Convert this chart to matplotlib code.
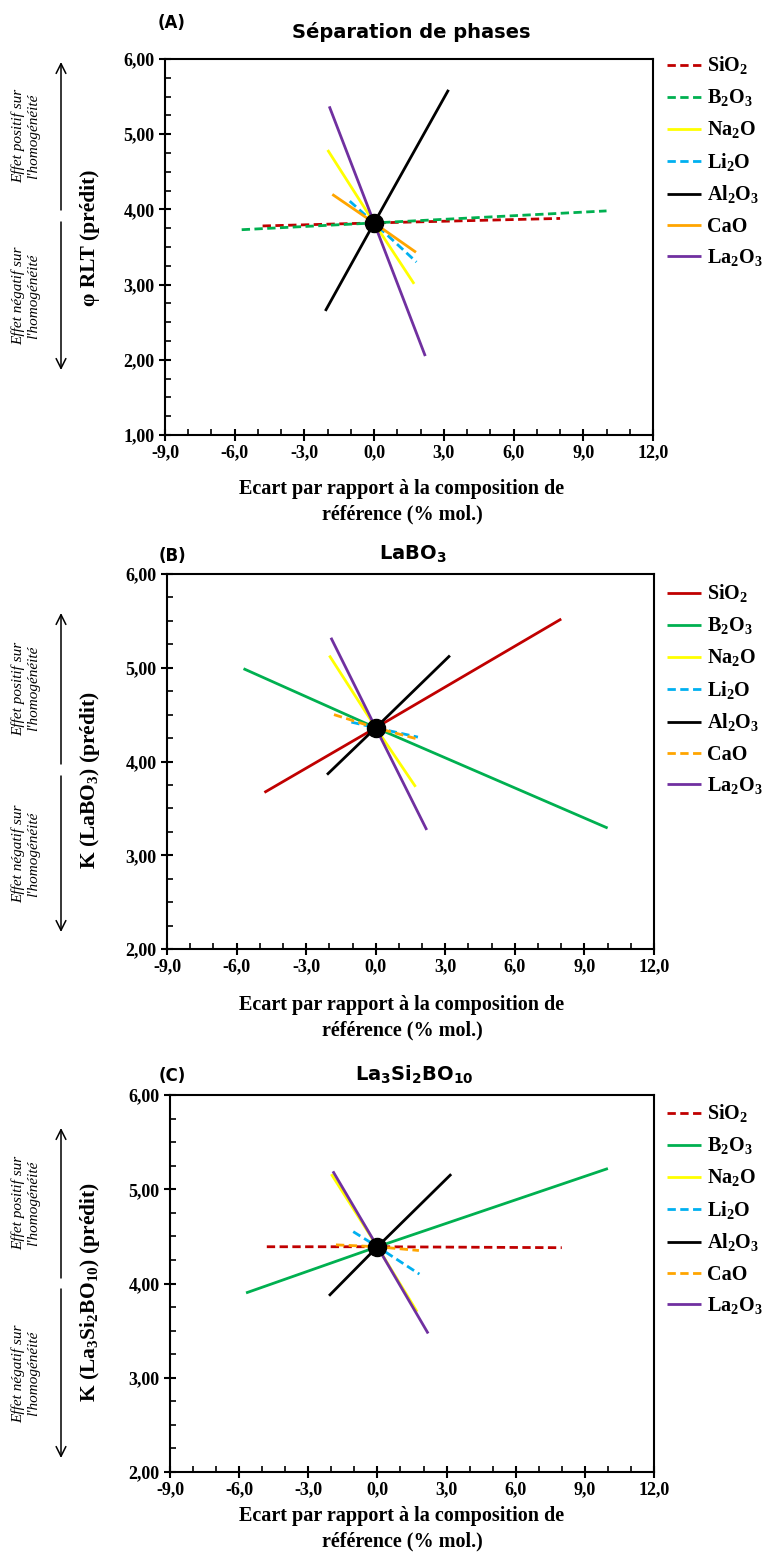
import matplotlib
matplotlib.use("Agg")
import matplotlib.pyplot as plt
from matplotlib.ticker import MultipleLocator, FuncFormatter

plt.rcParams['mathtext.fontset'] = 'custom'
plt.rcParams['mathtext.rm'] = 'Liberation Serif:bold'
plt.rcParams['mathtext.bf'] = 'Liberation Serif:bold'
plt.rcParams['mathtext.sf'] = 'DejaVu Sans:bold'

# ---------------- data ----------------
components = ['SiO2', 'B2O3', 'Na2O', 'Li2O', 'Al2O3', 'CaO', 'La2O3']
legend_labels = [r'SiO$_\mathrm{2}$', r'B$_\mathrm{2}$O$_\mathrm{3}$', r'Na$_\mathrm{2}$O',
                 r'Li$_\mathrm{2}$O', r'Al$_\mathrm{2}$O$_\mathrm{3}$', 'CaO',
                 r'La$_\mathrm{2}$O$_\mathrm{3}$']
# deviation range (% mol.) explored for each oxide
x_low = [-4.8, -5.7, -2.0, -1.05, -2.1, -1.8, -1.93]
x_high = [8.0, 10.0, 1.72, 1.82, 3.2, 1.8, 2.2]

# Panel A : Séparation de phases
center_A = 3.82
yA_low = [3.78, 3.73, 4.79, 4.11, 2.65, 4.20, 5.37]
yA_high = [3.88, 3.98, 3.01, 3.30, 5.59, 3.43, 2.05]
# Panel B : LaBO3
center_B = 4.36
yB_low = [3.67, 4.99, 5.13, 4.42, 3.86, 4.50, 5.32]
yB_high = [5.52, 3.29, 3.73, 4.26, 5.13, 4.24, 3.27]
# Panel C : La3Si2BO10
center_C = 4.39
yC_low = [4.39, 3.90, 5.16, 4.55, 3.87, 4.41, 5.19]
yC_high = [4.38, 5.22, 3.70, 4.10, 5.16, 4.35, 3.47]

x_ticks = [-9, -6, -3, 0, 3, 6, 9, 12]

colors = ['#C00000', '#00B050', '#FFFF00', '#00B0F0', '#000000', '#FFA500', '#7030A0']
DASH = (0, (3, 1.6))
styles_A = [DASH, DASH, '-', DASH, '-', '-', '-']
styles_B = ['-', '-', '-', DASH, '-', DASH, '-']
styles_C = [DASH, '-', '-', DASH, '-', DASH, '-']

# ---------------- layout ----------------
W, H = 772, 1559
fig = plt.figure(figsize=(W / 100, H / 100), dpi=100)

def fx(p):
    return p / W

def fy(p):
    return 1 - p / H

SERIF = 'Liberation Serif'
SANS = 'DejaVu Sans'

panels = [
    dict(rect=(165, 59, 653, 435), ylim=(1, 6), center=center_A, ylo=yA_low, yhi=yA_high,
         styles=styles_A, title='Séparation de phases', letter='(A)',
         ylabel='φ RLT (prédit)', ylab_y=238, title_dy=27, letter_dy=36,
         xl1=54, arrows=(62, 210, 222, 370), leg_dy=-14),
    dict(rect=(167, 574, 654, 949), ylim=(2, 6), center=center_B, ylo=yB_low, yhi=yB_high,
         styles=styles_B, title=r'LaBO$_{\mathsf{3}}$', letter='(B)',
         ylabel=r'K (LaBO$_\mathrm{3}$) (prédit)', ylab_y=780, title_dy=20, letter_dy=18,
         xl1=56, arrows=(613, 764, 776, 932), leg_dy=-1),
    dict(rect=(170, 1095, 654, 1472), ylim=(2, 6), center=center_C, ylo=yC_low, yhi=yC_high,
         styles=styles_C, title=r'La$_{\mathsf{3}}$Si$_{\mathsf{2}}$BO$_{\mathsf{10}}$', letter='(C)',
         ylabel=r'K (La$_\mathrm{3}$Si$_\mathrm{2}$BO$_\mathrm{10}$) (prédit)', ylab_y=1292,
         title_dy=20, letter_dy=19, xl1=44, arrows=(1128, 1278, 1289, 1458), leg_dy=-2),
]

fmt_x = FuncFormatter(lambda v, p: f"{v:.1f}".replace('.', ','))
fmt_y = FuncFormatter(lambda v, p: f"{v:.2f}".replace('.', ','))

for P in panels:
    l, t, r, b = P['rect']
    ax = fig.add_axes([fx(l), fy(b), fx(r - l), (b - t) / H])
    for i, comp in enumerate(components):
        ax.plot([x_low[i], 0, x_high[i]], [P['ylo'][i], P['center'], P['yhi'][i]],
                color=colors[i], ls=P['styles'][i], lw=2.0, label=legend_labels[i],
                solid_capstyle='butt', dash_capstyle='butt')
    ax.plot([0], [P['center']], 'o', color='black', ms=13, zorder=10)
    ax.set_xlim(-9, 12)
    ax.set_ylim(*P['ylim'])
    ax.set_xticks(x_ticks)
    ax.xaxis.set_minor_locator(MultipleLocator(1))
    ax.yaxis.set_major_locator(MultipleLocator(1))
    ax.yaxis.set_minor_locator(MultipleLocator(0.25))
    ax.xaxis.set_major_formatter(fmt_x)
    ax.yaxis.set_major_formatter(fmt_y)
    ax.tick_params(which='major', direction='inout', length=8, width=1.5, labelsize=13)
    ax.tick_params(which='minor', direction='in', length=4, width=1.2)
    ax.tick_params(axis='x', which='major', pad=3)
    for lab in ax.get_xticklabels() + ax.get_yticklabels():
        lab.set_fontfamily(SERIF)
        lab.set_fontweight('bold')
    for s in ax.spines.values():
        s.set_linewidth(1.5)

    cx = (l + r) / 2
    fig.text(fx(cx + 2), fy(t - P['title_dy']), P['title'], ha='center', va='center',
             fontsize=14, fontweight='bold', family=SANS)
    fig.text(fx(172), fy(t - P['letter_dy']), P['letter'], ha='center', va='center',
             fontsize=12, fontweight='bold', family=SANS)
    fig.text(fx(90), fy(P['ylab_y']), P['ylabel'], rotation=90, ha='center', va='center',
             fontsize=15.5, fontweight='bold', family=SERIF)
    fig.text(fx(402), fy(b + P['xl1'] + 13),
             'Ecart par rapport à la composition de\nréférence (% mol.)',
             ha='center', va='center', fontsize=14.5, fontweight='bold', family=SERIF,
             linespacing=1.35)

    leg = ax.legend(loc='upper left', bbox_to_anchor=(fx(657), fy(t + P['leg_dy'])),
                    bbox_transform=fig.transFigure, frameon=False, borderpad=0,
                    handlelength=1.7, handletextpad=0.3, labelspacing=0.52,
                    prop=dict(family=SERIF, weight='bold', size=14.5))

    a1, a2, a3, a4 = P['arrows']
    ax.annotate('', xy=(fx(61), fy(a1)), xytext=(fx(61), fy(a2)),
                xycoords='figure fraction', textcoords='figure fraction',
                arrowprops=dict(arrowstyle='->,head_length=0.7,head_width=0.35', lw=1.1,
                                color='black', shrinkA=0, shrinkB=0))
    ax.annotate('', xy=(fx(61), fy(a4)), xytext=(fx(61), fy(a3)),
                xycoords='figure fraction', textcoords='figure fraction',
                arrowprops=dict(arrowstyle='->,head_length=0.7,head_width=0.35', lw=1.1,
                                color='black', shrinkA=0, shrinkB=0))
    fig.text(fx(26), fy((a1 + a2) / 2), "Effet positif sur\nl'homogénéité", rotation=90,
             ha='center', va='center', fontsize=11, style='italic', family=SERIF,
             linespacing=1.15)
    fig.text(fx(26), fy((a3 + a4) / 2), "Effet négatif sur\nl'homogénéité", rotation=90,
             ha='center', va='center', fontsize=11, style='italic', family=SERIF,
             linespacing=1.15)

fig.savefig('out.png', dpi=100)
